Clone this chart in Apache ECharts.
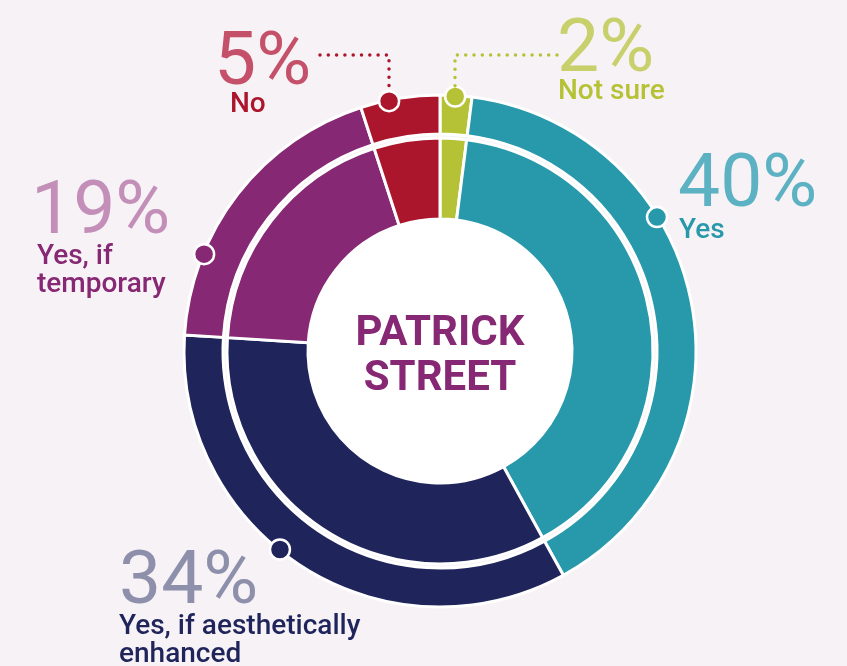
<!DOCTYPE html>
<html>
<head>
<meta charset="utf-8">
<script src="https://cdn.jsdelivr.net/npm/echarts@6/dist/echarts.min.js"></script>
<style>
html,body{margin:0;padding:0;background:#f7f2f6;}
#chart{width:847px;height:666px;}
</style>
</head>
<body>
<div id="chart"></div>
<script>
// ---- data ----
const categories = ['Not sure', 'Yes', 'Yes, if aesthetically enhanced', 'Yes, if temporary', 'No'];
const values = [2, 40, 34, 19, 5];
const labelLines = [['Not sure'], ['Yes'], ['Yes, if aesthetically', 'enhanced'], ['Yes, if', 'temporary'], ['No']];
// marker position along the ring, in percent of the full circle (clockwise from top)
const markerPos = [0.95, 16.2, 60.8, 81.2, 96.8];
const centerTitle = ['PATRICK', 'STREET'];

// ---- styles ----
const segColors = ['#b6c236', '#2799aa', '#1f255b', '#862873', '#ac162c'];
const pctColors = ['#c7d06b', '#5cb2c2', '#8e90ab', '#c38fb8', '#c5506a'];
const FONT = 'Roboto, "Noto Sans", sans-serif';
const CX = 440, CY = 351;
// label anchors (layout only)
const pctPos = [[557, 15], [678, 150], [119, 547], [31, 177], [214, 28]];
const subPos = [[558, 78], [679, 217], [119, 613], [37, 243], [230, 91]];

const chart = echarts.init(document.getElementById('chart'), null, {renderer: 'canvas'});

const pieData = categories.map((c, i) => ({name: c, value: values[i], itemStyle: {color: segColors[i]}}));

const graphics = [];
categories.forEach((c, i) => {
  graphics.push({
    type: 'text', x: pctPos[i][0], y: pctPos[i][1], z: 10,
    style: {text: values[i] + '%', font: '400 75px ' + FONT, fill: pctColors[i], align: 'left', verticalAlign: 'top'}
  });
  const multi = labelLines[i].length > 1;
  graphics.push({
    type: 'text', x: subPos[i][0], y: subPos[i][1], z: 10,
    style: {text: labelLines[i].join('\n'), font: '500 28px ' + FONT, lineHeight: 28,
      fill: segColors[i], align: 'left', verticalAlign: 'top'}
  });
});
// dotted leaders
graphics.push({
  type: 'polyline', z: 9,
  shape: {points: [[320, 55], [389, 55], [389, 86]]},
  style: {stroke: segColors[4], lineWidth: 3.5, lineDash: [0, 8.3], lineCap: 'round', fill: null}
});
graphics.push({
  type: 'polyline', z: 9,
  shape: {points: [[557, 55], [455, 55], [455, 86]]},
  style: {stroke: segColors[0], lineWidth: 3.5, lineDash: [0, 8.3], lineCap: 'round', fill: null}
});
// centre title
graphics.push({
  type: 'text', x: CX, y: 357, z: 10,
  style: {text: centerTitle.join('\n'), font: '700 42px ' + FONT, lineHeight: 45, fill: '#862873', align: 'center', verticalAlign: 'middle'}
});

chart.setOption({
  backgroundColor: '#f7f2f6',
  animation: false,
  polar: {center: [CX, CY], radius: 255},
  angleAxis: {type: 'value', min: 0, max: 100, startAngle: 90, clockwise: true, show: false},
  radiusAxis: {type: 'value', min: 0, max: 1, show: false},
  series: [
    {
      type: 'pie', center: [CX, CY], radius: [0, 131], silent: true,
      label: {show: false}, labelLine: {show: false},
      itemStyle: {color: '#ffffff'},
      data: [{name: 'centre', value: 1}]
    },
    {
      type: 'pie', center: [CX, CY], radius: [132, 213], startAngle: 90, clockwise: true,
      label: {show: false}, labelLine: {show: false}, silent: true,
      itemStyle: {borderColor: '#ffffff', borderWidth: 3},
      data: pieData
    },
    {
      type: 'pie', center: [CX, CY], radius: [217, 256], startAngle: 90, clockwise: true,
      label: {show: false}, labelLine: {show: false}, silent: true,
      itemStyle: {borderColor: '#ffffff', borderWidth: 3},
      data: pieData
    },
    {
      type: 'scatter', coordinateSystem: 'polar', z: 5, silent: true,
      symbol: 'circle', symbolSize: 20,
      itemStyle: {
        color: function (p) { return segColors[p.dataIndex]; },
        borderColor: '#ffffff', borderWidth: 2.5, opacity: 1
      },
      data: markerPos.map(p => [1, p])
    }
  ],
  graphic: graphics
});
</script>
</body>
</html>
